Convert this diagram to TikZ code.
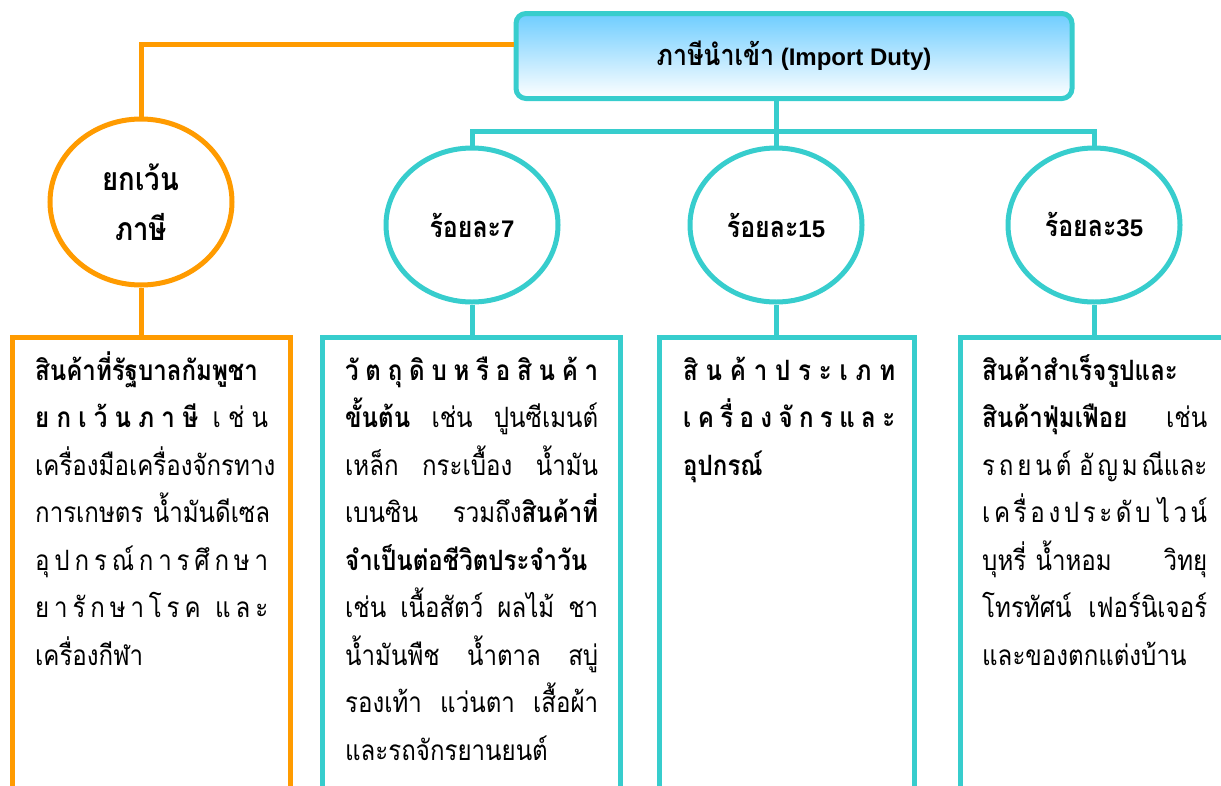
\documentclass[tikz,border=0pt]{standalone}
\usepackage{fontspec}
\setmainfont{Liberation Sans}
\newfontfamily\thaifont[Script=Thai, FakeStretch=0.86]{Loma}
\usetikzlibrary{shapes}
\definecolor{dutyteal}{RGB}{55,205,205}
\definecolor{dutyorange}{RGB}{255,155,0}
\definecolor{dutyblue}{RGB}{110,205,255}
\newcommand\dutyline[1]{\makebox[\linewidth][s]{#1}}% บรรทัดเต็มความกว้าง
\tikzset{
	treenode/.style = {align=center, inner sep=0pt, text centered,
		font=\bfseries\fontsize{24}{28}\selectfont},
	duty_h/.style = {treenode, rectangle, rounded corners=10pt, draw=dutyteal,
		line width=5pt, top color=dutyblue, bottom color=white,
		minimum width=556pt, minimum height=85pt},% ภาษีนำเข้า
	duty_c/.style = {treenode, ellipse, draw=dutyteal, line width=5pt,
		minimum width=172pt, minimum height=154pt},% วงกลม อัตราภาษี
	duty_o/.style = {duty_c, draw=dutyorange,
		minimum width=182pt, minimum height=166pt},% วงกลม ยกเว้นภาษี
	duty_b/.style = {rectangle, draw=dutyteal, line width=5pt, anchor=north,
		minimum height=500pt},% กล่องรายการ
	duty_t/.style = {anchor=base west, inner sep=0pt, align=left,
		font=\thaifont\fontsize{28}{47.5}\selectfont},% ข้อความ
	link_t/.style = {draw=dutyteal, line width=5pt},
	link_o/.style = {draw=dutyorange, line width=5pt}
}
\begin{document}
\begin{tikzpicture}[x=1pt,y=-1pt]
	\useasboundingbox (0,0) rectangle (1221,785);
	\clip (0,0) rectangle (1221,785);
	% หัวข้อ
	\node [duty_h] (head) at (794,56) {{\thaifont\fontsize{29}{28}\selectfont ภาษีนำเข้า} (Import Duty)};
	% อัตราภาษี
	\node [duty_o, font=\bfseries\thaifont\fontsize{32}{50}\selectfont] (exempt) at (141,202) {ยกเว้น\\ภาษี};
	\node [duty_c] (r7) at (472,225) {{\thaifont\fontsize{29}{28}\selectfont ร้อยละ}7};
	\node [duty_c] (r15) at (776,225) {{\thaifont\fontsize{29}{28}\selectfont ร้อยละ}15};
	\node [duty_c] (r35) at (1094,225) {{\thaifont\fontsize{29}{28}\selectfont ร้อยละ}35};
	% กล่องรายการ
	\node [duty_b, draw=dutyorange, minimum width=278pt] (l_exempt) at (151,335) {};
	\node [duty_b, minimum width=298pt] (l_7) at (471,335) {};
	\node [duty_b, minimum width=255pt] (l_15) at (787,335) {};
	\node [duty_b, minimum width=300pt] (l_35) at (1110,335) {};
	% ข้อความ
	\node [duty_t, text width=233pt] (t_exempt) at (35,380) {\dutyline{\textbf{สินค้าที่รัฐบาลกัมพูชา}}\\
		\dutyline{\textbf{ย\hfil ก\hfil เ\hfil ว้\hfil น\hfil ภ\hfil า\hfil ษี}\hfil\hfil เ\hfil ช่\hfil น}\\
		\dutyline{เครื่องมือเครื่องจักรทาง}\\
		\dutyline{การเกษตร \hfil น้ำมันดีเซล}\\
		\dutyline{อุ\hfil ป\hfil ก\hfil ร\hfil ณ์\hfil ก\hfil า\hfil ร\hfil ศึ\hfil ก\hfil ษ\hfil า}\\
		\dutyline{ย\hfil า\hfil รั\hfil ก\hfil ษ\hfil า\hfil โ\hfil ร\hfil ค\hfil\hfil\hfil แ\hfil ล\hfil ะ}\\
		เครื่องกีฬา};
	\node [duty_t, text width=253pt] (t_7) at (345,380) {\dutyline{\textbf{วั\hfil ต\hfil ถุ\hfil ดิ\hfil บ\hfil ห\hfil รื\hfil อ\hfil สิ\hfil น\hfil ค้\hfil า}}\\
		\dutyline{\textbf{ขั้นต้น} \hfil เช่น \hfil ปูนซีเมนต์}\\
		\dutyline{เหล็ก \hfil กระเบื้อง \hfil น้ำมัน}\\
		\dutyline{เบนซิน \hfil รวมถึง\textbf{สินค้าที่}}\\
		\dutyline{\textbf{จำเป็นต่อชีวิตประจำวัน}}\\
		\dutyline{เช่น \hfil เนื้อสัตว์ \hfil ผลไม้ \hfil ชา}\\
		\dutyline{น้ำมันพืช \hfil น้ำตาล \hfil สบู่}\\
		\dutyline{รองเท้า \hfil แว่นตา \hfil เสื้อผ้า}\\
		และรถจักรยานยนต์};
	\node [duty_t, text width=212pt] (t_15) at (683,380) {\dutyline{\textbf{สิ\hfil น\hfil ค้\hfil า\hfil ป\hfil ร\hfil ะ\hfil เ\hfil ภ\hfil ท}}\\
		\dutyline{\textbf{เ\hfil ค\hfil รื่\hfil อ\hfil ง\hfil จั\hfil ก\hfil ร\hfil แ\hfil ล\hfil ะ}}\\
		\textbf{อุปกรณ์}};
	\node [duty_t, text width=225pt] (t_35) at (982,380) {\dutyline{\textbf{สินค้าสำเร็จรูปและ}}\\
		\dutyline{\textbf{สินค้าฟุ่มเฟือย} \hfil เช่น}\\
		\dutyline{ร\hfil ถ\hfil ย\hfil น\hfil ต์\hfil\hfil อั\hfil ญ\hfil ม\hfil ณีและ}\\
		\dutyline{เ\hfil ค\hfil รื่\hfil อ\hfil ง\hfil ป\hfil ร\hfil ะ\hfil ดั\hfil บ\hfil\hfil ไ\hfil ว\hfil น์}\\
		\dutyline{บุหรี่ น้ำหอม\hfil วิทยุ}\\
		\dutyline{โทรทัศน์ \hfil เฟอร์นิเจอร์}\\
		และของตกแต่งบ้าน};
	% เส้นเชื่อม
	\draw [link_o] (head.west |- 0,44) -| (exempt.north);
	\draw [link_t] (r15.north |- head.south) -- (r15.north);
	\draw [link_t] (r7.north) |- (r35.north |- 0,131) -- (r35.north);
	\draw [link_o] (exempt.south) -- (exempt.south |- l_exempt.north);
	\draw [link_t] (r7.south) -- (r7.south |- l_7.north);
	\draw [link_t] (r15.south) -- (r15.south |- l_15.north);
	\draw [link_t] (r35.south) -- (r35.south |- l_35.north);
\end{tikzpicture}
\end{document}
